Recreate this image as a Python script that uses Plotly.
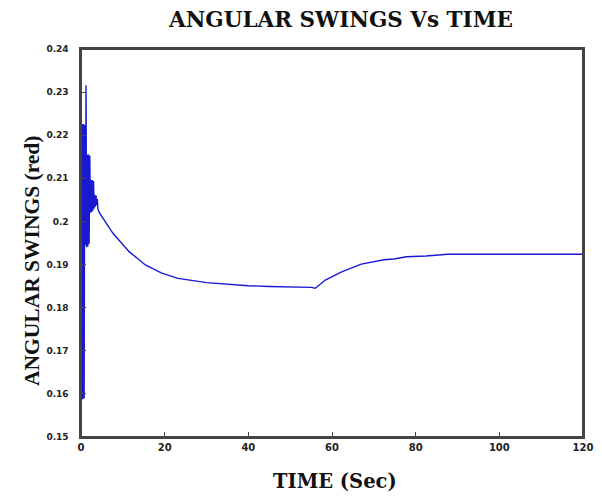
import plotly.graph_objects as go

# Fast oscillation burst at start (time in s, angle in rad)
osc_t = [0.0, 0.15, 0.3, 0.45, 0.6, 0.75, 0.9, 1.05, 1.2, 1.35, 1.5, 1.65, 1.8, 1.95,
         2.1, 2.25, 2.4, 2.55, 2.7, 2.85, 3.0, 3.15, 3.3, 3.45, 3.6, 3.75, 3.9, 4.05]
osc_v = [0.200, 0.1585, 0.2226, 0.1588, 0.2226, 0.1590, 0.2224, 0.1945, 0.2316, 0.1940,
         0.2155, 0.1942, 0.2155, 0.1948, 0.2153, 0.2020, 0.2096, 0.2022, 0.2096, 0.2025,
         0.2094, 0.2030, 0.2062, 0.2034, 0.2060, 0.2038, 0.2052, 0.2040]

# Smooth response afterwards
smooth_t = [4.06, 4.45, 7.6, 11.5, 15.4, 19.3, 23.2, 30, 35, 40, 45, 50, 55, 56,
            58.4, 62.3, 67, 72.4, 74.8, 77.8, 82.5, 87.7, 100, 120]
smooth_v = [0.2028, 0.2019, 0.1973, 0.1930, 0.1899, 0.1880, 0.1868, 0.1858, 0.1854,
            0.1851, 0.1849, 0.1848, 0.1847, 0.1845, 0.1864, 0.1883, 0.1901, 0.1911,
            0.1913, 0.1918, 0.1920, 0.1924, 0.1924, 0.1924]

x_ticks = [0, 20, 40, 60, 80, 100, 120]
x_labels = ["0", "20", "40", "60", "80", "100", "120"]
y_ticks = [0.15, 0.16, 0.17, 0.18, 0.19, 0.20, 0.21, 0.22, 0.23, 0.24]
y_labels = ["0.15", "0.16", "0.17", "0.18", "0.19", "0.2", "0.21", "0.22", "0.23", "0.24"]

t_all = osc_t + smooth_t
v_all = osc_v + smooth_v

fig = go.Figure()
fig.add_trace(go.Scatter(x=t_all, y=v_all, mode="lines",
                         line=dict(color="rgb(25,25,210)", width=1.4),
                         showlegend=False))

# body margin is removed by post_script, so the figure fills the window exactly
W, H = 602, 497
px_left, px_right, px_top, px_bottom = 81, 593, 49, 437   # window pixels of plot area
L, R, T, B = px_left, W - px_right, px_top, H - px_bottom
pw = W - L - R
ph = H - T - B

def fx(sx):
    return (sx - px_left) / pw

def fy(sy):
    return (px_bottom - sy) / ph

NB = "\u00a0"

fig.update_layout(
    width=W, height=H,
    margin=dict(l=L, r=R, t=T, b=B),
    plot_bgcolor="white",
    xaxis=dict(range=[0, 120], tickvals=x_ticks,
               ticktext=["<b>" + s + "</b>" for s in x_labels],
               tickfont=dict(family="DejaVu Sans", size=10, color="#222"),
               showline=True, linecolor="#444", linewidth=2, mirror=True,
               ticks="inside", ticklabeloverflow="allow"),
    yaxis=dict(range=[0.15, 0.24], tickvals=y_ticks,
               ticktext=["<b>" + s + "</b>" + NB * 3 for s in y_labels],
               tickfont=dict(family="DejaVu Sans", size=9, color="#222"),
               showline=True, linecolor="#444", linewidth=2, mirror=True,
               ticks="inside"),
    shapes=[dict(type="rect", xref="paper", yref="paper", x0=0, x1=1, y0=0, y1=1,
                 line=dict(color="#444", width=2))],
    annotations=[
        dict(text="<b>ANGULAR SWINGS Vs TIME</b>", xref="paper", yref="paper",
             x=fx(346), y=fy(19), xanchor="center", yanchor="middle",
             showarrow=False, font=dict(family="DejaVu Serif", size=21.5, color="#111")),
        dict(text="<b>TIME (Sec)</b>", xref="paper", yref="paper",
             x=fx(340), y=fy(481), xanchor="center", yanchor="middle",
             showarrow=False, font=dict(family="DejaVu Serif", size=19.5, color="#111")),
        dict(text="<b>ANGULAR SWINGS (red)</b>", xref="paper", yref="paper",
             x=fx(31), y=fy(261), xanchor="center", yanchor="middle",
             textangle=-90, showarrow=False,
             font=dict(family="Liberation Serif", size=21.5, color="#111")),
    ],
)

fig.write_html(
    "out.html",
    config={"displayModeBar": False},
    post_script="document.body.style.margin='0';document.body.style.overflow='hidden';"
                "document.documentElement.style.overflow='hidden';",
)
